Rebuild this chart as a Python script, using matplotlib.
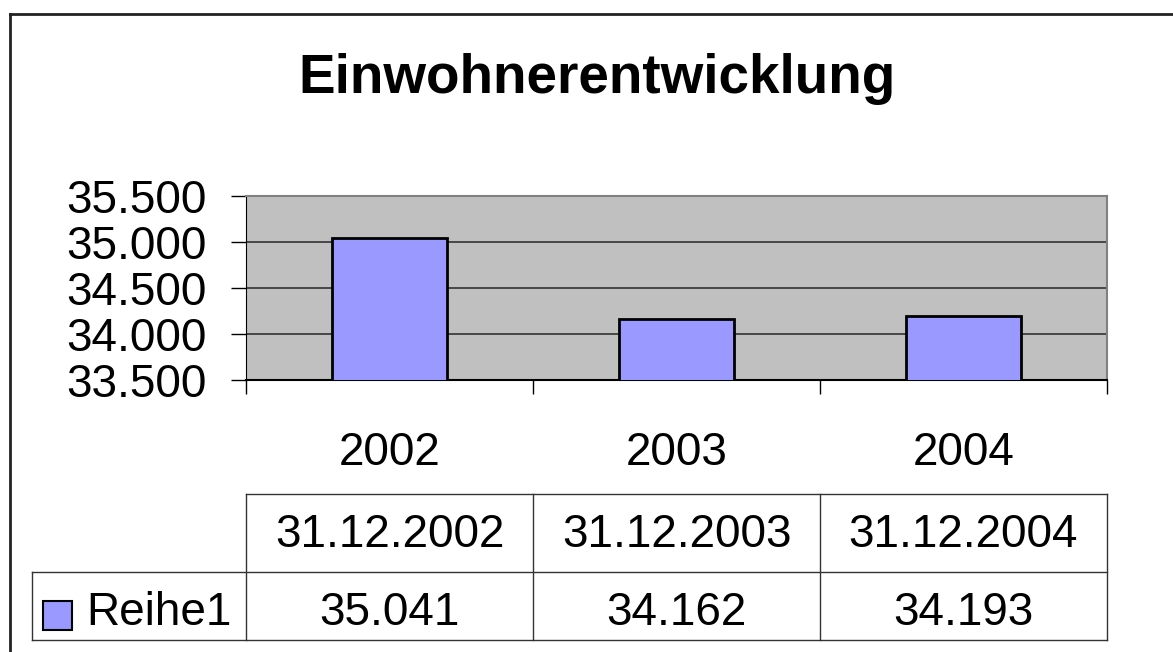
import matplotlib
matplotlib.use("Agg")
import matplotlib.pyplot as plt
from matplotlib.transforms import blended_transform_factory
from matplotlib.lines import Line2D
from matplotlib.patches import Rectangle

title = "Einwohnerentwicklung"
categories = ["2002", "2003", "2004"]
dates = ["31.12.2002", "31.12.2003", "31.12.2004"]
series_name = "Reihe1"
values = [35041, 34162, 34193]
value_labels = ["35.041", "34.162", "34.193"]
yticks = [33500, 34000, 34500, 35000, 35500]
ytick_labels = ["33.500", "34.000", "34.500", "35.000", "35.500"]

W, H = 1173, 652
FS = 33
plt.rcParams['font.family'] = ['Liberation Sans', 'DejaVu Sans']
fig = plt.figure(figsize=(W / 100, H / 100), dpi=100)

def fx(x):
    return x / W

def fy(y):
    return 1 - y / H

# outer frame (left and top visible)
fig.add_artist(Line2D([fx(10), fx(10)], [fy(14), fy(660)], color="#222222", lw=2))
fig.add_artist(Line2D([fx(10), fx(1180)], [fy(14), fy(14)], color="#222222", lw=2))

fig.text(fx(597), fy(79), title, ha="center", va="center", fontsize=39.5, fontweight="bold")

L, R, T, B = 246, 1107, 196, 380
ax = fig.add_axes([fx(L), fy(B), fx(R - L), (B - T) / H])
ax.set_facecolor("#C0C0C0")
x = list(range(len(categories)))
ax.bar(x, values, width=0.4, color="#9999FF", edgecolor="black", linewidth=2, zorder=3)
ax.set_xlim(-0.5, len(categories) - 0.5)
ax.set_ylim(yticks[0], yticks[-1])
ax.set_yticks(yticks)
ax.set_yticklabels(ytick_labels, fontsize=FS)
ax.yaxis.grid(True, color="#333333", lw=1.2, zorder=1)
ax.set_axisbelow(True)
ax.tick_params(axis="y", length=11, width=1, pad=17, colors="black")

ax.set_xticks([i - 0.5 for i in range(len(categories) + 1)])
ax.set_xticklabels([])
ax.tick_params(axis="x", which="major", length=10, width=1)
ax.set_xticks(x, minor=True)
ax.set_xticklabels(categories, minor=True, fontsize=FS)
ax.tick_params(axis="x", which="minor", length=0, pad=37)

for s in ["top", "right"]:
    ax.spines[s].set_color("#808080")
    ax.spines[s].set_linewidth(1.5)
ax.spines["left"].set_color("black")
ax.spines["bottom"].set_color("black")
ax.spines["bottom"].set_linewidth(1.5)

# data table below the axis
tr = blended_transform_factory(ax.transData, fig.transFigure)
lc = "#333333"
y_top, y_mid, y_bot = fy(494), fy(572), fy(640)
fig.add_artist(Line2D([-0.5, len(categories) - 0.5], [y_top, y_top], transform=tr, color=lc, lw=1))
fig.add_artist(Line2D([fx(32), fx(R)], [y_mid, y_mid], color=lc, lw=1))
fig.add_artist(Line2D([fx(32), fx(R)], [y_bot, y_bot], color=lc, lw=1))
for i in range(len(categories) + 1):
    fig.add_artist(Line2D([i - 0.5, i - 0.5], [y_top, y_bot], transform=tr, color=lc, lw=1))
fig.add_artist(Line2D([fx(32), fx(32)], [y_mid, y_bot], color=lc, lw=1))

for i, (d, v) in enumerate(zip(dates, value_labels)):
    fig.text(i, fy(535), d, transform=tr, ha="center", va="center", fontsize=FS)
    fig.text(i, fy(613), v, transform=tr, ha="center", va="center", fontsize=FS)

fig.add_artist(Rectangle((fx(43), fy(630)), fx(29), (630 - 601) / H,
                         facecolor="#9999FF", edgecolor="black", lw=1.5))
fig.text(fx(86), fy(613), series_name, ha="left", va="center", fontsize=FS)

fig.savefig("out.png", dpi=100)
